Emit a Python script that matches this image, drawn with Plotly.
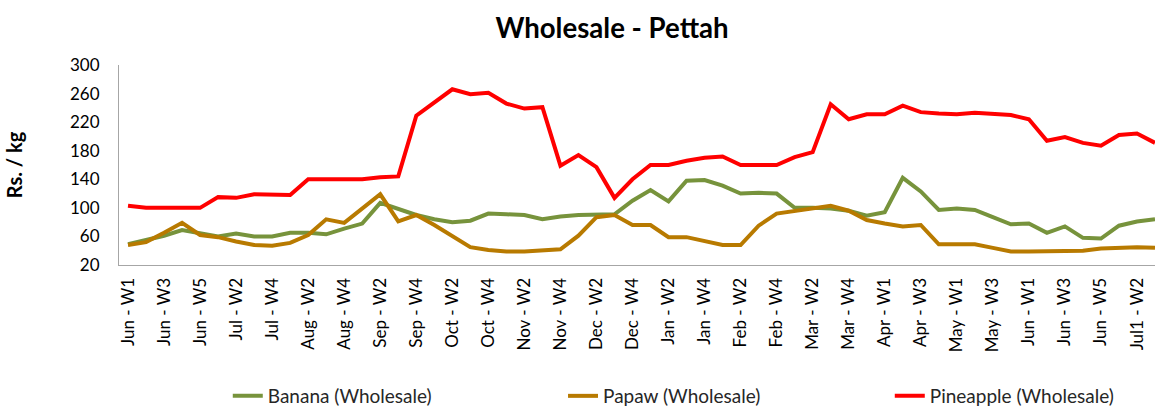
import plotly.graph_objects as go

categories = [
    "Jun - W1", "Jun - W2", "Jun - W3", "Jun - W4", "Jun - W5",
    "Jul - W1", "Jul - W2", "Jul - W3", "Jul - W4",
    "Aug - W1", "Aug - W2", "Aug - W3", "Aug - W4",
    "Sep - W1", "Sep - W2", "Sep - W3", "Sep - W4",
    "Oct - W1", "Oct - W2", "Oct - W3", "Oct - W4",
    "Nov - W1", "Nov - W2", "Nov - W3", "Nov - W4",
    "Dec - W1", "Dec - W2", "Dec - W3", "Dec - W4",
    "Jan - W1", "Jan - W2", "Jan - W3", "Jan - W4",
    "Feb - W1", "Feb - W2", "Feb - W3", "Feb - W4",
    "Mar - W1", "Mar - W2", "Mar - W3", "Mar - W4", "Mar - W5",
    "Apr - W1", "Apr - W2", "Apr - W3", "Apr - W4",
    "May - W1", "May - W2", "May - W3", "May - W4",
    "Jun - W1 ", "Jun - W2 ", "Jun - W3 ", "Jun - W4 ", "Jun - W5 ",
    "Jul1 - W1", "Jul1 - W2", "Jul1 - W3",
]

banana = [
    49, 55, 61, 69, 64, 60, 64, 60, 60, 65,
    65, 63, 71, 78, 107, 99, 90, 84, 80, 82,
    92, 91, 90, 84, 88, 90, 90, 91, 110, 125,
    109, 138, 139, 131, 120, 121, 120, 100, 100, 99,
    96, 89, 94, 142, 123, 97, 99, 97, 87, 77,
    78, 65, 74, 58, 57, 75, 81, 84,
]

papaw = [
    48, 52, 65, 79, 62, 59, 53, 48, 47, 51,
    62, 84, 79, 99, 119, 81, 90, 76, 60, 45,
    41, 39, 39, 41, 42, 61, 87, 90, 76, 76,
    59, 59, 54, 48, 48, 75, 92, 96, 99, 103,
    96, 83, 78, 74, 76, 49, 49, 49, 44, 39,
    39, 39, 39, 40, 43, 44, 45, 44,
]

pineapple = [
    103, 100, 100, 100, 100, 115, 114, 119, 118, 118,
    140, 140, 140, 140, 143, 144, 229, 248, 266, 259,
    261, 246, 239, 241, 159, 174, 157, 114, 140, 160,
    160, 166, 170, 172, 160, 160, 160, 171, 178, 245,
    224, 231, 231, 243, 234, 232, 231, 233, 231, 230,
    224, 194, 199, 191, 187, 202, 204, 191,
]

tick_idx = list(range(0, len(categories) - 1, 2))
tick_text = [categories[i].strip() for i in tick_idx]

FONT = "Lato"
x = list(range(len(categories)))

fig = go.Figure()
series = [
    ("Banana (Wholesale)", banana, "#77933C", "legend2"),
    ("Papaw (Wholesale)", papaw, "#B87A00", "legend3"),
    ("Pineapple (Wholesale)", pineapple, "#FF0000", "legend4"),
]
for name, vals, col, lg in series:
    fig.add_trace(go.Scatter(
        x=x, y=vals, name=name, mode="lines",
        line=dict(color=col, width=4),
        legend=lg,
        customdata=categories,
        hovertemplate="%{customdata}: %{y}<extra>" + name + "</extra>",
    ))

leg_common = dict(
    orientation="h", yanchor="middle", y=-0.655, xanchor="left",
    font=dict(family=FONT, size=19, color="#262626"),
    bgcolor="rgba(0,0,0,0)", itemwidth=30,
)

fig.update_layout(
    width=1155, height=406,
    margin=dict(l=119, r=0, t=65, b=141, autoexpand=False),
    paper_bgcolor="white", plot_bgcolor="white",
    title=dict(text="<b>Wholesale - Pettah</b>", x=612 / 1155, xanchor="center",
               y=1 - 28 / 406, yanchor="middle",
               font=dict(family=FONT, size=27.6, color="#000000")),
    font=dict(family=FONT, size=15, color="#000000"),
    showlegend=True,
    legend2=dict(x=0.105, **leg_common),
    legend3=dict(x=0.4286, **leg_common),
    legend4=dict(x=0.744, **leg_common),
    xaxis=dict(
        range=[-0.5, 57], tickmode="array", tickvals=tick_idx, ticktext=tick_text,
        tickangle=-90, showline=True, linecolor="#A6A6A6", linewidth=1,
        showgrid=False, zeroline=False, ticks="", ticklen=0, automargin=False,
        ticklabelstandoff=5,
        tickfont=dict(family=FONT, size=17, color="#000000"),
    ),
    yaxis=dict(
        range=[20, 300], tickmode="array", tickvals=list(range(20, 301, 40)),
        showline=True, linecolor="#A6A6A6", linewidth=1,
        showgrid=False, zeroline=False, ticks="", automargin=False,
        ticklabelstandoff=15,
        tickfont=dict(family=FONT, size=17, color="#000000"),
        title=dict(text="<b>Rs. / kg</b>", standoff=42,
                   font=dict(family=FONT, size=20, color="#000000")),
    ),
)

fig.write_html("out.html", config={"displayModeBar": False},
               post_script="document.body.style.margin='0px';")
